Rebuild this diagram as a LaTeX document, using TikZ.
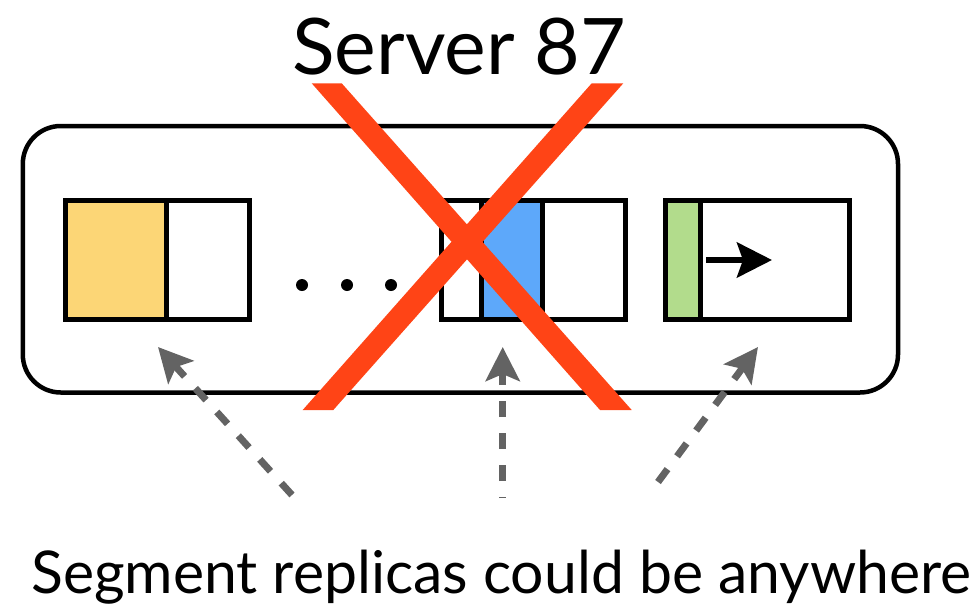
\documentclass[tikz,border=0pt]{standalone}
\usepackage{fontspec}
\setmainfont{Lato}
\usetikzlibrary{arrows.meta}

\definecolor{segyellow}{RGB}{252,214,118}
\definecolor{segblue}{RGB}{93,168,250}
\definecolor{seggreen}{RGB}{178,220,140}
\definecolor{crossred}{RGB}{255,68,22}
\definecolor{hintgray}{RGB}{99,99,99}

\tikzset{
  server/.style={draw=black, line width=4.5pt, rounded corners=38pt},
  segframe/.style={draw=black, line width=5pt},
  divider/.style={draw=black, line width=5pt},
  hint/.style={draw=hintgray, line width=7pt, dash pattern=on 16pt off 16pt,
    -{Stealth[length=34pt, width=34pt, inset=7pt]}},
  dotmark/.style={fill=black},
  label/.style={inner sep=0pt, anchor=base west}
}

\begin{document}
\begin{tikzpicture}[x=1pt, y=-1pt]
  \useasboundingbox (0,0) rectangle (974,605);

  % server outline
  \draw[server] (22.8,126) rectangle (898,392.5);

  % segment 1: yellow head
  \fill[segyellow] (65.5,200.5) rectangle (166.7,319.5);
  \draw[segframe] (65.5,200.5) rectangle (249.5,319.5);
  \draw[divider] (166.7,200.5) -- (166.7,319.5);

  % gap dots
  \foreach \x/\n in {302/d1, 347/d2, 391/d3}
    \fill[dotmark] (\x,285) circle (6pt) coordinate (\n);

  % segment 2: blue replica
  \fill[segblue] (481.7,200.5) rectangle (542.3,319.5);
  \draw[segframe] (441.5,200.5) rectangle (625.5,319.5);
  \draw[divider] (481.7,200.5) -- (481.7,319.5);
  \draw[divider] (542.3,200.5) -- (542.3,319.5);

  % segment 3: green head, open log growing right
  \fill[seggreen] (665.5,200.5) rectangle (700,319.5);
  \draw[segframe] (665.5,200.5) rectangle (849.5,319.5);
  \draw[divider] (700,200.5) -- (700,319.5);
  \coordinate (grow0) at (706,260);
  \coordinate (grow1) at (772,260);
  \draw[line width=6pt, -{Stealth[length=35pt, width=35pt, inset=6pt]}] (grow0) -- (grow1);

  % title
  \node[label, font=\fontsize{78}{78}\selectfont] (title) at (292,74)
    {\resizebox{334pt}{\height}{Server 87}};

  % failure cross
  \fill[crossred] (311.7,83.3) -- (341.7,83.3) -- (631.7,410) -- (600,410) -- cycle;
  \fill[crossred] (591.7,83.3) -- (623.3,83.3) -- (333.3,410) -- (302.7,410) -- cycle;

  % dashed hints
  \coordinate (h1a) at (292,495);  \coordinate (h1b) at (158,347);
  \coordinate (h2a) at (502.7,498); \coordinate (h2b) at (502.7,347);
  \coordinate (h3a) at (658,482);  \coordinate (h3b) at (758,347);
  \draw[hint] (h1a) -- (h1b);
  \draw[hint, dash phase=15pt] (h2a) -- (h2b);
  \draw[hint] (h3a) -- (h3b);

  % caption
  \node[label, font=\fontsize{59}{59}\selectfont] (caption) at (31,593)
    {\resizebox{940pt}{\height}{Segment replicas could be anywhere}};
\end{tikzpicture}
\end{document}
